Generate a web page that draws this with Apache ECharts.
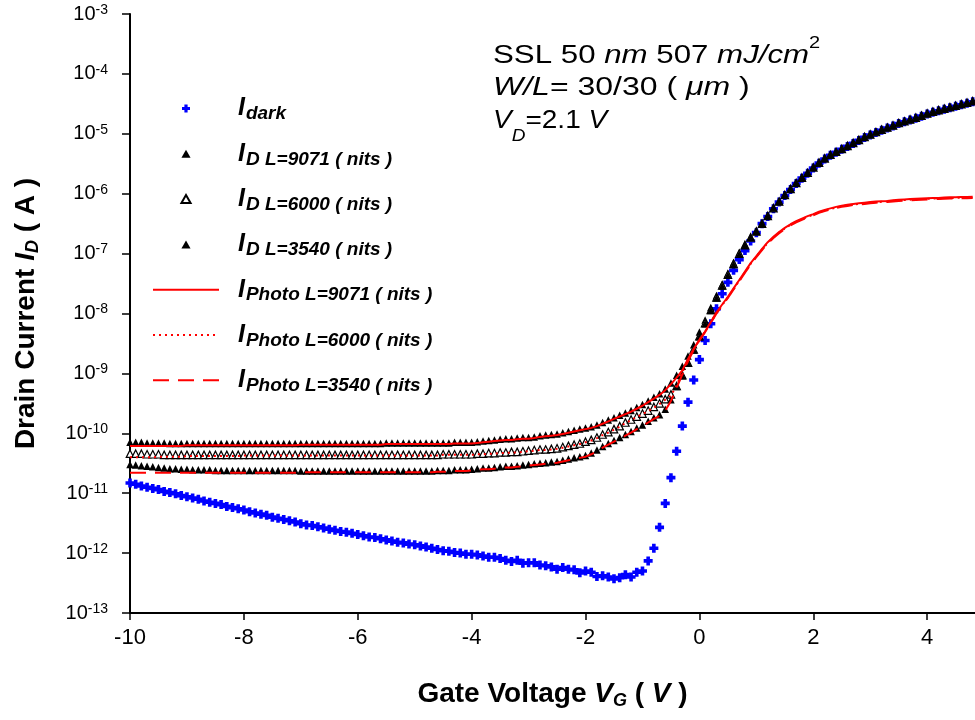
<!DOCTYPE html>
<html><head><meta charset="utf-8">
<script src="https://cdn.jsdelivr.net/npm/echarts/dist/echarts.min.js"></script>
<style>html,body{margin:0;padding:0;background:#fff}#c{width:975px;height:720px}</style>
</head><body><div id="c"></div>
<script>
// Gate voltage sweep (V)
const VG = [
-10.0,-9.9,-9.8,-9.7,-9.6,-9.5,-9.4,-9.3,-9.2,-9.1,
-9.0,-8.9,-8.8,-8.7,-8.6,-8.5,-8.4,-8.3,-8.2,-8.1,
-8.0,-7.9,-7.8,-7.7,-7.6,-7.5,-7.4,-7.3,-7.2,-7.1,
-7.0,-6.9,-6.8,-6.7,-6.6,-6.5,-6.4,-6.3,-6.2,-6.1,
-6.0,-5.9,-5.8,-5.7,-5.6,-5.5,-5.4,-5.3,-5.2,-5.1,
-5.0,-4.9,-4.8,-4.7,-4.6,-4.5,-4.4,-4.3,-4.2,-4.1,
-4.0,-3.9,-3.8,-3.7,-3.6,-3.5,-3.4,-3.3,-3.2,-3.1,
-3.0,-2.9,-2.8,-2.7,-2.6,-2.5,-2.4,-2.3,-2.2,-2.1,
-2.0,-1.9,-1.8,-1.7,-1.6,-1.5,-1.4,-1.3,-1.2,-1.1,
-1.0,-0.9,-0.8,-0.7,-0.6,-0.5,-0.4,-0.3,-0.2,-0.1,
0.0,0.1,0.2,0.3,0.4,0.5,0.6,0.7,0.8,0.9,
1.0,1.1,1.2,1.3,1.4,1.5,1.6,1.7,1.8,1.9,
2.0,2.1,2.2,2.3,2.4,2.5,2.6,2.7,2.8,2.9,
3.0,3.1,3.2,3.3,3.4,3.5,3.6,3.7,3.8,3.9,
4.0,4.1,4.2,4.3,4.4,4.5,4.6,4.7,4.8];

// Drain currents stored as log10(I / A)
const log10_Idark = [
-10.83,-10.85,-10.88,-10.90,-10.92,-10.94,-10.97,-10.99,-11.01,-11.04,
-11.06,-11.08,-11.10,-11.13,-11.15,-11.17,-11.19,-11.22,-11.24,-11.26,
-11.28,-11.31,-11.33,-11.35,-11.37,-11.40,-11.42,-11.44,-11.46,-11.48,
-11.51,-11.53,-11.54,-11.56,-11.58,-11.60,-11.62,-11.64,-11.65,-11.67,
-11.69,-11.71,-11.73,-11.74,-11.76,-11.78,-11.80,-11.82,-11.83,-11.85,
-11.86,-11.88,-11.90,-11.92,-11.94,-11.96,-11.97,-11.99,-12.00,-12.02,
-12.02,-12.03,-12.05,-12.07,-12.07,-12.09,-12.12,-12.14,-12.12,-12.17,
-12.16,-12.16,-12.20,-12.21,-12.23,-12.27,-12.24,-12.27,-12.28,-12.33,
-12.30,-12.32,-12.39,-12.38,-12.40,-12.43,-12.41,-12.36,-12.40,-12.32,
-12.30,-12.13,-11.92,-11.57,-11.17,-10.74,-10.30,-9.88,-9.48,-9.11,
-8.77,-8.45,-8.17,-7.92,-7.67,-7.48,-7.28,-7.10,-6.95,-6.79,
-6.65,-6.50,-6.38,-6.25,-6.14,-6.03,-5.93,-5.83,-5.74,-5.66,
-5.57,-5.49,-5.42,-5.36,-5.31,-5.26,-5.21,-5.16,-5.11,-5.06,
-5.02,-4.98,-4.94,-4.905,-4.87,-4.83,-4.80,-4.77,-4.74,-4.705,
-4.67,-4.64,-4.615,-4.59,-4.565,-4.54,-4.515,-4.49,-4.465];

const log10_ID_9071 = [
-10.15,-10.15,-10.15,-10.16,-10.16,-10.16,-10.16,-10.17,-10.17,-10.17,
-10.17,-10.17,-10.17,-10.17,-10.17,-10.17,-10.17,-10.17,-10.17,-10.17,
-10.17,-10.17,-10.17,-10.17,-10.17,-10.17,-10.17,-10.17,-10.17,-10.17,
-10.17,-10.17,-10.17,-10.17,-10.17,-10.17,-10.17,-10.17,-10.17,-10.17,
-10.17,-10.17,-10.17,-10.17,-10.17,-10.16,-10.16,-10.16,-10.16,-10.16,
-10.16,-10.16,-10.16,-10.16,-10.16,-10.16,-10.16,-10.15,-10.15,-10.15,
-10.15,-10.14,-10.13,-10.12,-10.11,-10.10,-10.09,-10.09,-10.08,-10.07,
-10.07,-10.06,-10.04,-10.03,-10.02,-10.01,-9.99,-9.97,-9.95,-9.93,
-9.91,-9.89,-9.86,-9.82,-9.78,-9.74,-9.70,-9.66,-9.62,-9.57,
-9.52,-9.46,-9.40,-9.34,-9.26,-9.16,-9.03,-8.88,-8.71,-8.52,
-8.31,-8.11,-7.90,-7.70,-7.51,-7.33,-7.15,-6.98,-6.84,-6.72,
-6.62,-6.49,-6.37,-6.24,-6.13,-6.02,-5.92,-5.82,-5.73,-5.65,
-5.56,-5.48,-5.41,-5.35,-5.30,-5.25,-5.20,-5.15,-5.10,-5.05,
-5.01,-4.97,-4.93,-4.895,-4.86,-4.82,-4.79,-4.76,-4.73,-4.695,
-4.66,-4.63,-4.605,-4.58,-4.555,-4.53,-4.505,-4.48,-4.455];

const log10_ID_6000 = [
-10.34,-10.34,-10.34,-10.35,-10.35,-10.35,-10.36,-10.36,-10.36,-10.36,
-10.36,-10.36,-10.36,-10.36,-10.36,-10.36,-10.36,-10.36,-10.36,-10.36,
-10.36,-10.36,-10.36,-10.36,-10.36,-10.36,-10.36,-10.36,-10.36,-10.36,
-10.36,-10.36,-10.36,-10.36,-10.36,-10.36,-10.36,-10.36,-10.36,-10.36,
-10.36,-10.36,-10.36,-10.36,-10.36,-10.36,-10.36,-10.36,-10.36,-10.36,
-10.36,-10.36,-10.36,-10.36,-10.36,-10.35,-10.35,-10.35,-10.35,-10.35,
-10.35,-10.34,-10.34,-10.33,-10.33,-10.32,-10.32,-10.31,-10.31,-10.30,
-10.29,-10.28,-10.27,-10.27,-10.26,-10.25,-10.23,-10.21,-10.19,-10.17,
-10.14,-10.11,-10.07,-10.02,-9.98,-9.93,-9.88,-9.82,-9.77,-9.72,
-9.67,-9.62,-9.56,-9.50,-9.43,-9.35,-9.21,-9.03,-8.82,-8.60,
-8.38,-8.16,-7.94,-7.73,-7.53,-7.35,-7.17,-7.00,-6.86,-6.73,
-6.63,-6.50,-6.37,-6.24,-6.13,-6.02,-5.92,-5.82,-5.73,-5.65,
-5.56,-5.48,-5.41,-5.35,-5.30,-5.25,-5.20,-5.15,-5.10,-5.05,
-5.01,-4.97,-4.93,-4.895,-4.86,-4.82,-4.79,-4.76,-4.73,-4.695,
-4.66,-4.63,-4.605,-4.58,-4.555,-4.53,-4.505,-4.48,-4.455];

const log10_ID_3540 = [
-10.52,-10.53,-10.54,-10.55,-10.56,-10.57,-10.58,-10.59,-10.59,-10.60,
-10.60,-10.61,-10.61,-10.61,-10.61,-10.62,-10.62,-10.62,-10.62,-10.62,
-10.62,-10.62,-10.62,-10.62,-10.62,-10.62,-10.62,-10.62,-10.62,-10.62,
-10.63,-10.63,-10.63,-10.63,-10.63,-10.63,-10.63,-10.63,-10.63,-10.63,
-10.63,-10.63,-10.63,-10.63,-10.63,-10.63,-10.63,-10.63,-10.63,-10.63,
-10.63,-10.63,-10.63,-10.63,-10.62,-10.62,-10.62,-10.61,-10.61,-10.61,
-10.60,-10.59,-10.58,-10.58,-10.57,-10.56,-10.55,-10.55,-10.54,-10.53,
-10.52,-10.51,-10.50,-10.49,-10.48,-10.47,-10.45,-10.43,-10.41,-10.39,
-10.37,-10.33,-10.28,-10.22,-10.17,-10.12,-10.07,-10.02,-9.97,-9.91,
-9.86,-9.80,-9.74,-9.69,-9.60,-9.44,-9.22,-9.04,-8.83,-8.61,
-8.39,-8.17,-7.95,-7.74,-7.54,-7.36,-7.18,-7.01,-6.86,-6.73,
-6.63,-6.50,-6.37,-6.24,-6.13,-6.02,-5.92,-5.82,-5.73,-5.65,
-5.56,-5.48,-5.41,-5.35,-5.30,-5.25,-5.20,-5.15,-5.10,-5.05,
-5.01,-4.97,-4.93,-4.895,-4.86,-4.82,-4.79,-4.76,-4.73,-4.695,
-4.66,-4.63,-4.605,-4.58,-4.555,-4.53,-4.505,-4.48,-4.455];

const log10_Iphoto_9071 = [
-10.21,-10.21,-10.21,-10.21,-10.21,-10.21,-10.21,-10.21,-10.21,-10.21,
-10.20,-10.20,-10.20,-10.20,-10.20,-10.20,-10.20,-10.20,-10.20,-10.20,
-10.20,-10.20,-10.20,-10.20,-10.20,-10.20,-10.20,-10.20,-10.20,-10.20,
-10.19,-10.19,-10.19,-10.19,-10.19,-10.19,-10.19,-10.19,-10.19,-10.19,
-10.19,-10.19,-10.19,-10.19,-10.19,-10.18,-10.18,-10.18,-10.18,-10.18,
-10.18,-10.18,-10.18,-10.18,-10.18,-10.18,-10.18,-10.17,-10.17,-10.17,
-10.17,-10.16,-10.15,-10.14,-10.13,-10.12,-10.11,-10.11,-10.10,-10.09,
-10.09,-10.08,-10.06,-10.05,-10.04,-10.03,-10.01,-9.99,-9.97,-9.95,
-9.93,-9.91,-9.88,-9.84,-9.80,-9.76,-9.72,-9.68,-9.64,-9.59,
-9.54,-9.48,-9.42,-9.36,-9.28,-9.18,-9.07,-8.95,-8.76,-8.59,
-8.44,-8.30,-8.14,-7.98,-7.85,-7.72,-7.58,-7.44,-7.30,-7.16,
-7.04,-6.92,-6.81,-6.72,-6.64,-6.57,-6.51,-6.46,-6.415,-6.375,
-6.34,-6.30,-6.27,-6.245,-6.22,-6.20,-6.185,-6.17,-6.16,-6.15,
-6.14,-6.13,-6.125,-6.12,-6.11,-6.10,-6.095,-6.09,-6.085,-6.08,
-6.075,-6.07,-6.07,-6.065,-6.06,-6.06,-6.055,-6.055,-6.05];

const log10_Iphoto_6000 = [
-10.40,-10.40,-10.40,-10.40,-10.40,-10.39,-10.39,-10.39,-10.39,-10.39,
-10.38,-10.38,-10.38,-10.38,-10.38,-10.38,-10.38,-10.38,-10.38,-10.38,
-10.37,-10.37,-10.37,-10.37,-10.37,-10.37,-10.37,-10.37,-10.37,-10.37,
-10.37,-10.37,-10.37,-10.37,-10.37,-10.37,-10.37,-10.37,-10.37,-10.37,
-10.37,-10.37,-10.37,-10.37,-10.37,-10.37,-10.37,-10.37,-10.37,-10.37,
-10.37,-10.37,-10.37,-10.37,-10.37,-10.36,-10.36,-10.36,-10.36,-10.36,
-10.36,-10.35,-10.35,-10.34,-10.34,-10.33,-10.33,-10.32,-10.32,-10.31,
-10.30,-10.29,-10.28,-10.28,-10.27,-10.26,-10.24,-10.22,-10.20,-10.18,
-10.15,-10.12,-10.08,-10.03,-9.99,-9.94,-9.89,-9.83,-9.78,-9.73,
-9.68,-9.63,-9.57,-9.51,-9.44,-9.37,-9.20,-8.98,-8.78,-8.60,
-8.44,-8.30,-8.15,-7.99,-7.86,-7.73,-7.59,-7.45,-7.31,-7.17,
-7.05,-6.93,-6.82,-6.73,-6.65,-6.58,-6.52,-6.47,-6.425,-6.385,
-6.35,-6.31,-6.28,-6.255,-6.23,-6.21,-6.195,-6.18,-6.17,-6.16,
-6.15,-6.14,-6.135,-6.13,-6.12,-6.11,-6.105,-6.10,-6.095,-6.09,
-6.085,-6.08,-6.08,-6.075,-6.07,-6.07,-6.065,-6.065,-6.06];

const log10_Iphoto_3540 = [
-10.66,-10.66,-10.66,-10.66,-10.66,-10.66,-10.66,-10.66,-10.66,-10.66,
-10.66,-10.66,-10.66,-10.66,-10.66,-10.66,-10.66,-10.66,-10.66,-10.66,
-10.66,-10.66,-10.66,-10.66,-10.66,-10.66,-10.66,-10.66,-10.66,-10.66,
-10.65,-10.65,-10.65,-10.65,-10.65,-10.65,-10.65,-10.65,-10.65,-10.65,
-10.65,-10.65,-10.65,-10.65,-10.65,-10.65,-10.65,-10.65,-10.65,-10.65,
-10.65,-10.65,-10.65,-10.65,-10.64,-10.64,-10.64,-10.63,-10.63,-10.63,
-10.62,-10.61,-10.60,-10.60,-10.59,-10.58,-10.57,-10.57,-10.56,-10.55,
-10.54,-10.53,-10.52,-10.51,-10.50,-10.49,-10.47,-10.45,-10.43,-10.41,
-10.39,-10.35,-10.30,-10.24,-10.19,-10.14,-10.09,-10.04,-9.99,-9.93,
-9.88,-9.82,-9.76,-9.71,-9.62,-9.46,-9.24,-9.02,-8.80,-8.61,
-8.45,-8.31,-8.16,-8.00,-7.87,-7.74,-7.60,-7.46,-7.32,-7.18,
-7.06,-6.94,-6.83,-6.74,-6.66,-6.59,-6.53,-6.48,-6.435,-6.395,
-6.36,-6.32,-6.29,-6.265,-6.24,-6.22,-6.205,-6.19,-6.18,-6.17,
-6.16,-6.15,-6.145,-6.14,-6.13,-6.12,-6.115,-6.11,-6.105,-6.10,
-6.095,-6.09,-6.09,-6.085,-6.08,-6.08,-6.075,-6.075,-6.07];

// Axis ticks
const xTicks = [-10, -8, -6, -4, -2, 0, 2, 4];
const yDecades = [-13, -12, -11, -10, -9, -8, -7, -6, -5, -4, -3];

// Series names and legend labels (rich text)
const seriesNames = ['I dark', 'I D L=9071 ( nits )', 'I D L=6000 ( nits )', 'I D L=3540 ( nits )',
  'I Photo L=9071 ( nits )', 'I Photo L=6000 ( nits )', 'I Photo L=3540 ( nits )'];
const legendLabels = {
  'I dark': '{I|I}{s|dark}',
  'I D L=9071 ( nits )': '{I|I}{s|D L=9071 ( nits )}',
  'I D L=6000 ( nits )': '{I|I}{s|D L=6000 ( nits )}',
  'I D L=3540 ( nits )': '{I|I}{s|D L=3540 ( nits )}',
  'I Photo L=9071 ( nits )': '{I|I}{s|Photo L=9071 ( nits )}',
  'I Photo L=6000 ( nits )': '{I|I}{s|Photo L=6000 ( nits )}',
  'I Photo L=3540 ( nits )': '{I|I}{s|Photo L=3540 ( nits )}'
};

const FONT = '"Liberation Sans", Arial, Helvetica, sans-serif';
function pairs(ys) { return ys.map((y, i) => [VG[i], y]); }
const plusPath = 'path://M2.7,0H6.3V2.7H9V6.3H6.3V9H2.7V6.3H0V2.7H2.7Z';
const triPath = 'path://M4,0L8,7L0,7Z';

const chart = echarts.init(document.getElementById('c'), null, {renderer: 'canvas'});
const nameRich = {
  b: {fontFamily: FONT, fontSize: 28, fontWeight: 'bold', lineHeight: 32, verticalAlign: 'middle', color: '#000'},
  bi: {fontFamily: FONT, fontSize: 28, fontWeight: 'bold', fontStyle: 'italic', lineHeight: 32, verticalAlign: 'middle', color: '#000'},
  sub: {fontFamily: FONT, fontSize: 18, fontWeight: 'bold', fontStyle: 'italic', lineHeight: 18, verticalAlign: 'bottom', color: '#000'}
};
const option = {
  animation: false,
  backgroundColor: '#ffffff',
  grid: {left: 130, right: 0, top: 14, bottom: 107},
  xAxis: {
    type: 'value', min: -10, max: 4.84, interval: 2,
    axisLine: {show: true, onZero: false, lineStyle: {color: '#000', width: 2}},
    axisTick: {show: true, inside: false, length: 7, lineStyle: {color: '#000', width: 1.5}},
    splitLine: {show: false},
    axisLabel: {
      color: '#000', fontFamily: FONT, fontSize: 22, margin: 14, showMaxLabel: false,
      formatter: v => (xTicks.indexOf(Math.round(v * 100) / 100) >= 0 ? String(Math.round(v)) : '')
    },
    name: '{b|Gate Voltage }{bi|V}{sub|G}{b| ( }{bi|V}{b| )}',
    nameLocation: 'middle', nameGap: 65,
    nameTextStyle: {color: '#000', rich: nameRich}
  },
  yAxis: {
    type: 'value', min: -13, max: -3, interval: 1,
    axisLine: {show: true, onZero: false, lineStyle: {color: '#000', width: 2}},
    axisTick: {show: true, inside: false, length: 8, lineStyle: {color: '#000', width: 1.5}},
    splitLine: {show: false},
    axisLabel: {
      margin: 22,
      formatter: v => (yDecades.indexOf(v) >= 0 ? '{b|10}{s|' + v + '}' : ''),
      rich: {
        b: {fontFamily: FONT, fontSize: 20, lineHeight: 22, verticalAlign: 'middle', color: '#000'},
        s: {fontFamily: FONT, fontSize: 14, lineHeight: 14, verticalAlign: 'top', color: '#000'}
      }
    },
    name: '{b|Drain Current }{bi|I}{sub|D}{b| ( A )}',
    nameLocation: 'middle', nameRotate: 90, nameGap: 88,
    nameTextStyle: {color: '#000', rich: nameRich}
  },
  legend: {
    orient: 'vertical', left: 152, top: 96, padding: 0,
    itemWidth: 66, itemHeight: 8, itemGap: 17.8,
    selectedMode: false,
    data: seriesNames.map((n, i) => (i < 4 ? {name: n} : {name: n, itemStyle: {opacity: 0}})),
    formatter: name => legendLabels[name],
    textStyle: {
      color: '#000',
      rich: {
        I: {fontFamily: FONT, fontSize: 25, fontWeight: 'bold', fontStyle: 'italic', lineHeight: 30, verticalAlign: 'middle', padding: [0, 1, 0, 14], color: '#000'},
        s: {fontFamily: FONT, fontSize: 19, fontWeight: 'bold', fontStyle: 'italic', lineHeight: 16, verticalAlign: 'bottom', color: '#000'}
      }
    }
  },
  graphic: [
    {type: 'text', x: 493, y: 36, scaleX: 1.25, originX: 0, originY: 0, silent: true,
      style: {text: '{rb|SSL 50 }{ib|nm}{rb| 507 }{ib|mJ/cm}{sup|2}{h1| }', align: 'left', verticalAlign: 'top'}},
    {type: 'text', x: 493, y: 76, scaleX: 1.28, originX: 0, originY: 0, silent: true,
      style: {text: '{i|W/L}{r|= 30/30 ( }{i|\u03bcm}{r| )}', align: 'left', verticalAlign: 'top'}},
    {type: 'text', x: 493, y: 109, scaleX: 1.12, originX: 0, originY: 0, silent: true,
      style: {text: '{i|V}{sub|D}{r|=2.1 }{i|V}{h| }', align: 'left', verticalAlign: 'top'}}
  ],
  series: [
    {name: seriesNames[0], type: 'scatter', data: pairs(log10_Idark), symbol: plusPath, symbolSize: 9,
      itemStyle: {color: '#0000ff', opacity: 1}, z: 2},
    {name: seriesNames[1], type: 'scatter', data: pairs(log10_ID_9071), symbol: triPath, symbolSize: 7.5,
      itemStyle: {color: '#000000', opacity: 1}, z: 3},
    {name: seriesNames[2], type: 'scatter', data: pairs(log10_ID_6000), symbol: triPath, symbolSize: 7.5,
      itemStyle: {color: '#ffffff', borderColor: '#000000', borderWidth: 1.2, opacity: 1}, z: 3},
    {name: seriesNames[3], type: 'scatter', data: pairs(log10_ID_3540), symbol: triPath, symbolSize: 7.5,
      itemStyle: {color: '#000000', opacity: 1}, z: 3},
    {name: seriesNames[4], type: 'line', data: pairs(log10_Iphoto_9071), symbol: 'none', showSymbol: false,
      itemStyle: {color: '#ff0000'}, lineStyle: {color: '#ff0000', width: 2, type: 'solid'}, z: 4},
    {name: seriesNames[5], type: 'line', data: pairs(log10_Iphoto_6000), symbol: 'none', showSymbol: false,
      itemStyle: {color: '#ff0000'}, lineStyle: {color: '#ff0000', width: 2, type: [2, 4]}, z: 4},
    {name: seriesNames[6], type: 'line', data: pairs(log10_Iphoto_3540), symbol: 'none', showSymbol: false,
      itemStyle: {color: '#ff0000'}, lineStyle: {color: '#ff0000', width: 2, type: [16, 9]}, z: 4}
  ]
};
const annoRich = {
  r: {fontFamily: FONT, fontSize: 25, lineHeight: 32, verticalAlign: 'top', fill: '#000'},
  i: {fontFamily: FONT, fontSize: 25, fontStyle: 'italic', lineHeight: 32, verticalAlign: 'top', fill: '#000'},
  rb: {fontFamily: FONT, fontSize: 25, lineHeight: 32, verticalAlign: 'bottom', fill: '#000'},
  ib: {fontFamily: FONT, fontSize: 25, fontStyle: 'italic', lineHeight: 32, verticalAlign: 'bottom', fill: '#000'},
  sup: {fontFamily: FONT, fontSize: 16, lineHeight: 16, verticalAlign: 'top', fill: '#000'},
  sub: {fontFamily: FONT, fontSize: 17, fontStyle: 'italic', lineHeight: 17, verticalAlign: 'bottom', fill: '#000'},
  h: {fontFamily: FONT, fontSize: 2, lineHeight: 36, verticalAlign: 'top', fill: '#000'},
  h1: {fontFamily: FONT, fontSize: 2, lineHeight: 33, verticalAlign: 'top', fill: '#000'}
};
option.graphic.forEach(g => { g.style.rich = annoRich; g.style.fill = '#000'; });
chart.setOption(option);
</script>
</body></html>
